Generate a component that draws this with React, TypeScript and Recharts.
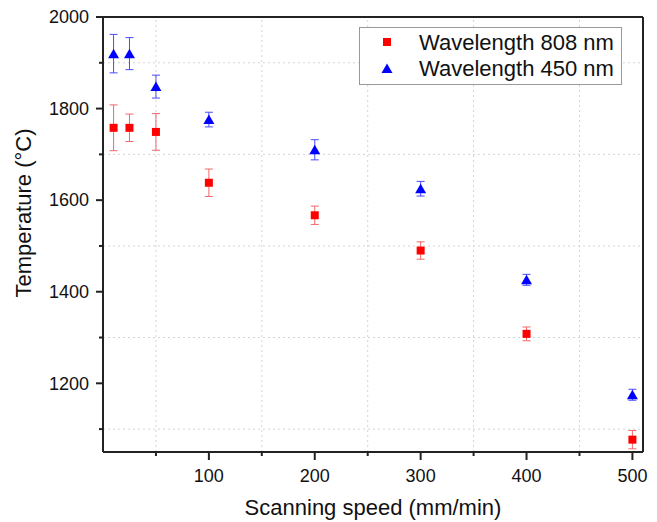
import { ErrorBar, Legend, ReferenceLine, Scatter, ScatterChart, XAxis, YAxis } from "recharts";

const speeds = [10, 25, 50, 100, 200, 300, 400, 500];
const temp808 = [1758, 1758, 1749, 1638, 1567, 1490, 1308, 1077];
const err808 = [50, 30, 40, 30, 20, 19, 15, 20];
const temp450 = [1920, 1920, 1848, 1776, 1710, 1625, 1426, 1175];
const err450 = [42, 35, 25, 16, 22, 16, 12, 12];

const xMajor = [100, 200, 300, 400, 500];
const xMinor = [50, 150, 250, 350, 450];
const yMajor = [1200, 1400, 1600, 1800, 2000];
const yMinor = [1100, 1300, 1500, 1700, 1900];

const data808 = speeds.map((speed, i) => ({ speed, temp: temp808[i], err: err808[i] }));
const data450 = speeds.map((speed, i) => ({ speed, temp: temp450[i], err: err450[i] }));

const FONT = '"Liberation Sans", Arial, sans-serif';
const RED = "#ff0000";
const BLUE = "#0000ff";
const AXIS = "#222";
const GRID = "#d4d4d4";

const square = (cx: number, cy: number, color: string) => (
  <rect x={cx - 4} y={cy - 4} width={8} height={8} fill={color} />
);
const triangle = (cx: number, cy: number, color: string) => (
  <polygon points={`${cx - 5.5},${cy + 4.5} ${cx + 5.5},${cy + 4.5} ${cx},${cy - 5}`} fill={color} />
);

const legendItems = [
  { name: "Wavelength 808 nm", draw: (x: number, y: number) => square(x, y, RED) },
  { name: "Wavelength 450 nm", draw: (x: number, y: number) => triangle(x, y, BLUE) },
];

function XTick(props: any) {
  const { x, y, payload } = props;
  const major = xMajor.includes(payload.value);
  return (
    <g>
      <line x1={x} x2={x} y1={y} y2={y + (major ? 8 : 4)} stroke={AXIS} strokeWidth={2} />
      {major && (
        <text x={x} y={y + 30} textAnchor="middle" fontSize={18} fontFamily={FONT} fill="#111">
          {payload.value}
        </text>
      )}
    </g>
  );
}

function YTick(props: any) {
  const { x, y, payload } = props;
  const major = yMajor.includes(payload.value);
  return (
    <g>
      <line x1={x} x2={x - (major ? 7 : 4)} y1={y} y2={y} stroke={AXIS} strokeWidth={2} />
      {major && (
        <text x={x - 14} y={y} dy="0.35em" textAnchor="end" fontSize={18} fontFamily={FONT} fill="#111">
          {payload.value}
        </text>
      )}
    </g>
  );
}

function renderLegend() {
  return (
    <svg width={264} height={59}>
      <rect x={0.5} y={0.5} width={262} height={57} fill="#fff" stroke="#999" />
      {legendItems.map((item, i) => (
        <g key={item.name}>
          {item.draw(28, 15 + i * 26.6)}
          <text x={60} y={15 + i * 26.6} dy="0.35em" fontSize={22} fontFamily={FONT} fill="#111">
            {item.name}
          </text>
        </g>
      ))}
    </svg>
  );
}

export default function App() {
  return (
    <div style={{ position: "absolute", left: 0, top: 0, width: 657, height: 522, background: "#fff" }}>
      <ScatterChart width={657} height={522} margin={{ top: 17, right: 14, bottom: 0, left: 0 }}>
        <XAxis
          type="number"
          dataKey="speed"
          domain={[0, 510]}
          allowDataOverflow
          ticks={[...xMinor, ...xMajor].sort((a, b) => a - b)}
          interval={0}
          height={70}
          tickSize={0}
          tickMargin={0}
          tick={<XTick />}
          axisLine={{ stroke: AXIS, strokeWidth: 2 }}
          label={{ value: "Scanning speed (mm/min)", position: "insideBottom", offset: 7, fontSize: 22, fill: "#111", fontFamily: FONT }}
        />
        <YAxis
          type="number"
          dataKey="temp"
          domain={[1050, 2000]}
          allowDataOverflow
          ticks={[...yMinor, ...yMajor].sort((a, b) => a - b)}
          interval={0}
          width={103}
          tickSize={0}
          tickMargin={0}
          tick={<YTick />}
          axisLine={{ stroke: AXIS, strokeWidth: 2 }}
          label={{
            content: () => (
              <text x={31} y={213} transform="rotate(-90 31 213)" textAnchor="middle" fontSize={22} fontFamily={FONT} fill="#111">
                Temperature (°C)
              </text>
            ),
          }}
        />
        {xMinor.map((v) => (
          <ReferenceLine key={`gx${v}`} x={v} stroke={GRID} strokeDasharray="2 3" />
        ))}
        {yMinor.map((v) => (
          <ReferenceLine key={`gy${v}`} y={v} stroke={GRID} strokeDasharray="2 3" />
        ))}
        <ReferenceLine y={2000} stroke={AXIS} strokeWidth={2} />
        <ReferenceLine x={510} stroke={AXIS} strokeWidth={2} />
        <Scatter
          name="Wavelength 808 nm"
          data={data808}
          isAnimationActive={false}
          shape={(p: any) => square(p.cx, p.cy, RED)}
        >
          <ErrorBar dataKey="err" direction="y" width={4} stroke="#f26868" strokeWidth={1} isAnimationActive={false} />
        </Scatter>
        <Scatter
          name="Wavelength 450 nm"
          data={data450}
          isAnimationActive={false}
          shape={(p: any) => triangle(p.cx, p.cy, BLUE)}
        >
          <ErrorBar dataKey="err" direction="y" width={4} stroke="#4a4aff" strokeWidth={1} isAnimationActive={false} />
        </Scatter>
        <Legend
          layout="vertical"
          align="center"
          verticalAlign="middle"
          content={renderLegend}
          wrapperStyle={{ left: 359, top: 27, width: 264, height: 59 }}
        />
      </ScatterChart>
    </div>
  );
}
